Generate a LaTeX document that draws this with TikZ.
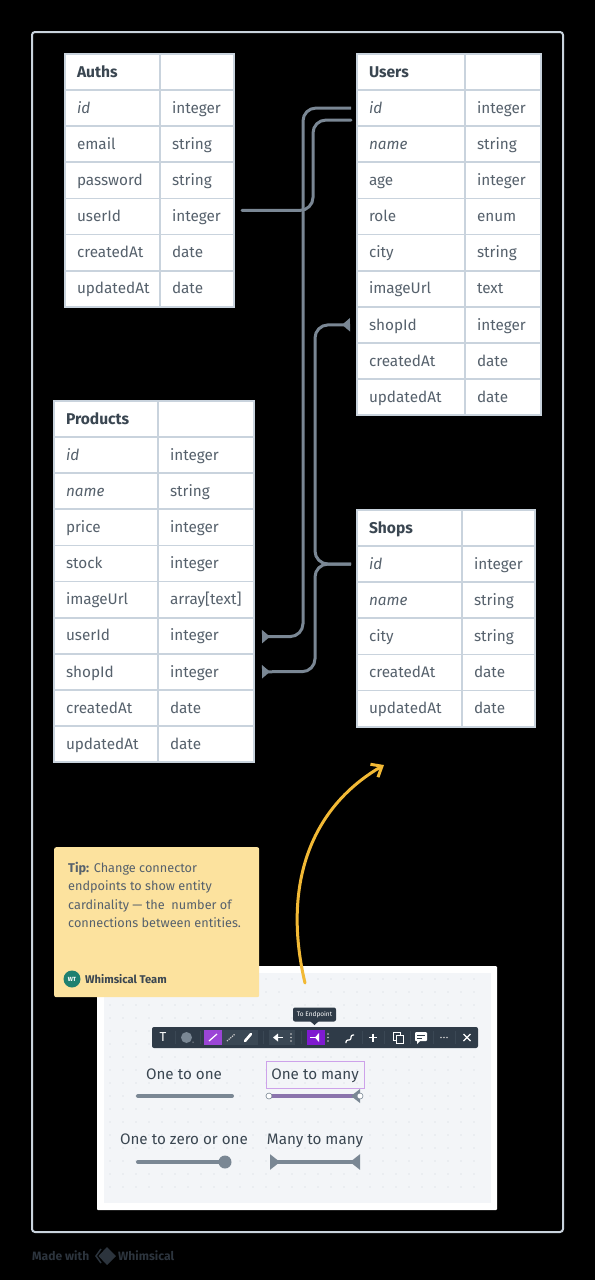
\documentclass[tikz,border=0pt]{standalone}
\usepackage{fontspec}
\setmainfont{Fira Sans}
\usetikzlibrary{arrows.meta}
\definecolor{gridline}{HTML}{C9D3DD}
\definecolor{inktext}{HTML}{56616C}
\definecolor{inkhead}{HTML}{3A4651}
\definecolor{connline}{HTML}{7A8794}
\definecolor{notefill}{HTML}{FCE29E}
\definecolor{barfill}{HTML}{2F3B48}
\definecolor{bargroup}{HTML}{3A4754}
\definecolor{pickfill}{HTML}{9B45D6}
\definecolor{endfill}{HTML}{7F1AD0}
\definecolor{footink}{HTML}{2C343D}
\definecolor{panelfill}{HTML}{F3F5F8}
\definecolor{paneldot}{HTML}{CDD3DA}
\definecolor{picksample}{HTML}{8B74AD}
\definecolor{arrowgold}{HTML}{F2B935}
\definecolor{avatarfill}{HTML}{1E8070}
\tikzset{
    cell/.style={draw=gridline,line width=1.8pt,fill=white,anchor=north west,outer sep=0pt,
        inner xsep=12pt,inner ysep=0pt,minimum height=36.1pt,align=left,
        text height=11pt,text depth=.5pt,text=inktext,font=\fontsize{15.3}{16}\selectfont},
    conn/.style={draw=connline,line width=3pt,rounded corners=13pt,line cap=round},
    crow/.style={-{Triangle[reversed,length=8pt,width=13pt]},line cap=butt},
    smalllabel/.style={text=inkhead,font=\fontsize{15.2}{16}\selectfont,inner sep=0pt,text height=11pt,text depth=.5pt},
    sample/.style={draw=connline,line width=4pt,line cap=round},
    icon/.style={draw=white,line width=1.2pt},
    barsep/.style={draw=bargroup,line width=.8pt}
}
% name, left, key width, type width, top, title, rows
\newcommand{\entitytable}[7]{
    \node[cell,text width=#3pt-24pt,font=\fontsize{15.6}{16}\selectfont\bfseries,text=inkhead] (#1Key0) at (#2,#5) {#6};
    \node[cell,text width=#4pt-24pt] (#1Val0) at (#2+#3,#5) {};
    \foreach \key/\val [count=\i] in {#7} {
        \node[cell,text width=#3pt-24pt] (#1Key\i) at (#2,#5+36.1*\i) {\key};
        \node[cell,text width=#4pt-24pt] (#1Val\i) at (#2+#3,#5+36.1*\i) {\val};
    }
}
\begin{document}
\begin{tikzpicture}[x=1pt,y=-1pt]
    \fill[black] (0,0) rectangle (595,1280);
    \useasboundingbox (0,0) rectangle (595,1280);
    \draw[draw=gridline,line width=2pt,rounded corners=3pt] (32,32) rectangle (563,1232);

    % tables
    \entitytable{auths}{65}{95}{74}{54}{Auths}{\textit{id}/integer,email/string,password/string,userId/integer,createdAt/date,updatedAt/date}
    \entitytable{users}{357}{108}{76}{54}{Users}{\textit{id}/integer,\textit{name}/string,age/integer,role/enum,city/string,imageUrl/text,shopId/integer,createdAt/date,updatedAt/date}
    \entitytable{products}{54}{104}{96}{401}{Products}{\textit{id}/integer,\textit{name}/string,price/integer,stock/integer,imageUrl/array[text],userId/integer,shopId/integer,createdAt/date,updatedAt/date}
    \entitytable{shops}{357}{105}{73}{510}{Shops}{\textit{id}/integer,\textit{name}/string,city/string,createdAt/date,updatedAt/date}

    % connector ends
    \coordinate (usersIdEnd) at ([xshift=-6pt]usersKey1.west);
    \coordinate (usersNameEnd) at ([xshift=-6pt,yshift=-12pt]usersKey1.west);
    \coordinate (usersShopEnd) at ([xshift=-7pt]usersKey7.west);
    \coordinate (shopsIdEnd) at ([xshift=-6pt]shopsKey1.west);
    \coordinate (authsUserEnd) at ([xshift=8pt,yshift=6pt]authsVal4.east);
    \coordinate (prodUserEnd) at ([xshift=8pt,yshift=-1pt]productsVal6.east);
    \coordinate (prodShopEnd) at ([xshift=8pt]productsVal7.east);

    % connectors
    \draw[conn] (usersNameEnd) -- (313,120) -- (313,210.4) -- (authsUserEnd);
    \draw[conn,crow] (usersIdEnd) -- (303,108) -- (303,636.6) -- (prodUserEnd);
    \draw[conn,crow] (shopsIdEnd) -- (315,564) -- (315,325) -- (usersShopEnd);
    \draw[conn,crow] (shopsIdEnd) -- (315,564) -- (315,671.7) -- (prodShopEnd);

    % panel
    \fill[white,rounded corners=1pt] (97,966) rectangle (497,1210);
    \fill[panelfill] (104,973) rectangle (491,1203);
    \foreach \x in {110,123,...,486} {
        \foreach \y in {979,992,...,1199} {
            \fill[paneldot] (\x,\y) circle (.7pt);
        }
    }

    % note
    \node[fill=notefill,rounded corners=2pt,anchor=north west,minimum width=205pt,minimum height=150pt] (tipNote) at (54,847) {};
    \node[anchor=north west,inner sep=0pt,align=left,text=inktext,font=\fontsize{12.7}{18.3}\selectfont] (tipText) at (68,862)
        {\textbf{Tip:} Change connector\\endpoints to show entity\\cardinality --- the\ \ number of\\connections between entities.};
    \node[circle,fill=avatarfill,inner sep=0pt,minimum size=17pt,text=white,font=\fontsize{6}{6}\selectfont\bfseries] (tipAvatar) at (72,979) {WT};
    \node[anchor=west,inner sep=0pt,text=inkhead,font=\fontsize{11.2}{12}\selectfont\bfseries] (tipAuthor) at (85,979) {Whimsical Team};

    % toolbar
    \node[fill=barfill,rounded corners=2pt,minimum width=326pt,minimum height=21pt,inner sep=0pt] (toolBar) at (315,1037.5) {};
    \node[fill=barfill,rounded corners=2pt,minimum width=43pt,minimum height=14pt,inner sep=0pt,text=white,font=\fontsize{6.5}{7}\selectfont] (toolTip) at (314.5,1014.5) {To Endpoint};
    \fill[barfill] (310,1021) -- (319,1021) -- (314.5,1025) -- cycle;
    \fill[bargroup] (204,1030) rectangle (258,1045);
    \fill[bargroup] (269,1030) rectangle (295,1045);
    \fill[pickfill] (204,1030) rectangle (222,1045);
    \fill[endfill] (307,1030) rectangle (325,1045);
    \node[text=white,inner sep=0pt,font=\fontsize{13}{13}\selectfont] (toolT) at (163,1037.5) {T};
    \foreach \x in {175,200,263,301,362,384,410,433,455} {
        \draw[barsep] (\x,1031) -- (\x,1044);
    }
    \fill[connline] (186.5,1037.5) circle (5.5pt);
    \fill[white] (193,1042) circle (.5pt);
    \draw[icon] (209,1041) -- (217,1034);
    \draw[icon,densely dotted,draw=white!80!black] (227,1041) -- (235,1034);
    \draw[icon,line width=2.6pt,line cap=round] (245,1041) -- (251,1034);
    \draw[icon,line width=1.8pt] (277,1037.5) -- (283,1037.5);
    \fill[white] (273,1037.5) -- (278,1033.5) -- (278,1041.5) -- cycle;
    \draw[icon,line width=1.8pt] (310,1037.5) -- (318,1037.5);
    \fill[white] (319,1033) -- (319,1042) -- (315,1037.5) -- cycle;
    \foreach \x in {291,328} {
        \foreach \y in {1034,1037.5,1041} {
            \fill[white!80!black] (\x,\y) circle (.8pt);
        }
    }
    \draw[icon,rounded corners=2pt] (346,1043) -- (346,1040) -- (351,1040) -- (351,1035) -- (354,1035);
    \draw[icon] (369,1037.5) -- (377,1037.5) (373,1033.5) -- (373,1041.5);
    \draw[icon,line width=.9pt] (393,1032.5) rectangle (400,1040);
    \draw[icon,line width=.9pt,fill=barfill] (396,1035.5) rectangle (403,1043);
    \fill[white,rounded corners=1pt] (415,1032) rectangle (427,1041);
    \fill[white] (417,1040) -- (417,1044) -- (421,1040) -- cycle;
    \draw[barfill,line width=.8pt] (417,1035) -- (425,1035) (417,1038) -- (422,1038);
    \foreach \x in {441,444,447} {
        \fill[white!80!black] (\x,1037.5) circle (.8pt);
    }
    \draw[icon] (463.5,1034) -- (470.5,1041) (470.5,1034) -- (463.5,1041);

    % samples
    \node[smalllabel] (oneOneLabel) at (184,1074) {One to one};
    \node[smalllabel] (oneManyLabel) at (315,1074) {One to many};
    \node[smalllabel] (oneZeroLabel) at (184,1139) {One to zero or one};
    \node[smalllabel] (manyManyLabel) at (315,1139) {Many to many};
    \draw[draw=pickfill!50!white,line width=1pt] (266,1061) rectangle (364,1088);

    \coordinate (oneOneA) at (138,1096);
    \coordinate (oneOneB) at (232,1096);
    \draw[sample] (oneOneA) -- (oneOneB);

    \coordinate (oneManyA) at (269,1096);
    \coordinate (oneManyB) at (360,1096);
    \draw[sample,draw=picksample,line cap=butt] (oneManyA) -- (oneManyB);
    \fill[connline] (360,1089) -- (360,1103) -- (351,1096) -- cycle;
    \draw[draw=connline,fill=white,line width=.6pt] (oneManyA) circle (3pt) (oneManyB) circle (3pt);

    \coordinate (oneZeroA) at (138,1162);
    \node[circle,fill=connline,minimum size=13pt,inner sep=0pt] (oneZeroB) at (225,1162) {};
    \draw[sample] (oneZeroA) -- (oneZeroB);

    \coordinate (manyManyA) at (270,1162);
    \coordinate (manyManyB) at (360,1162);
    \draw[sample,line cap=butt,{Triangle[reversed,length=10pt,width=15pt]}-{Triangle[reversed,length=10pt,width=15pt]}] (manyManyA) -- (manyManyB);

    % yellow arrow
    \coordinate (arrowStart) at (305,983);
    \coordinate (arrowEnd) at (384,765);
    \draw[draw=arrowgold,line width=3pt,line cap=round,line join=round,-{Straight Barb[length=9pt,width=15pt]}]
        (arrowStart) .. controls (283,890) and (307,810) .. (arrowEnd);

    % footer
    \node[anchor=west,inner sep=0pt,text=footink,font=\fontsize{12.1}{12}\selectfont\bfseries] (madeWith) at (32,1256) {Made with};
    \draw[draw=footink,line width=1.5pt] (101,1249) -- (96,1256) -- (101,1263);
    \fill[footink] (107,1247) -- (116,1256) -- (107,1265) -- (98.5,1256) -- cycle;
    \node[anchor=west,inner sep=0pt,text=footink,font=\fontsize{12.1}{12}\selectfont\bfseries] (madeBrand) at (118,1256) {Whimsical};
\end{tikzpicture}
\end{document}
